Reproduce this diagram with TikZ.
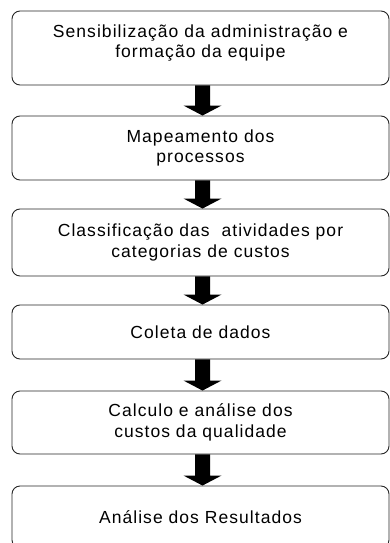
\documentclass[tikz,border=0pt]{standalone}
\usepackage{fontspec}
\setmainfont{Liberation Sans}[LetterSpace=6]
\usetikzlibrary{calc}
\newcommand\seta[2]{\fill ($(#1.south)+(-5.5pt,0)$) -- ($(#1.south)+(9.5pt,0)$) -- ($(#2.north)+(9.5pt,10pt)$) -- ($(#2.north)+(21pt,10pt)$) -- ($(#2.north)+(2pt,0)$) -- ($(#2.north)+(-17pt,10pt)$) -- ($(#2.north)+(-5.5pt,10pt)$) -- cycle;}
\begin{document}
\begin{tikzpicture}[x=1pt,y=-1pt,line join=round,
    etapa/.style={draw=black!85, line width=0.9pt, rounded corners=8pt, minimum width=377pt, align=center, inner sep=0pt, font=\fontsize{17.5}{20.5}\selectfont}]
    \useasboundingbox (0,0) rectangle (390,543);
    \node[etapa, minimum height=74pt, text depth=14pt] (s1) at (200.5,48) {Sensibilização da administração e\\formação da equipe};
    \node[etapa, minimum height=64pt] (s2) at (200.5,148) {Mapeamento dos\\processos};
    \node[etapa, minimum height=67pt] (s3) at (200.5,242.5) {Classificação das\ \ atividades por\\categorias de custos};
    \node[etapa, minimum height=54pt] (s4) at (200.5,332) {Coleta de dados};
    \node[etapa, minimum height=63pt] (s5) at (200.5,422.5) {Calculo e análise dos\\custos da qualidade};
    \node[etapa, minimum height=62pt] (s6) at (200.5,517) {Análise dos Resultados};
    \seta{s1}{s2} \seta{s2}{s3} \seta{s3}{s4} \seta{s4}{s5} \seta{s5}{s6}
\end{tikzpicture}
\end{document}
